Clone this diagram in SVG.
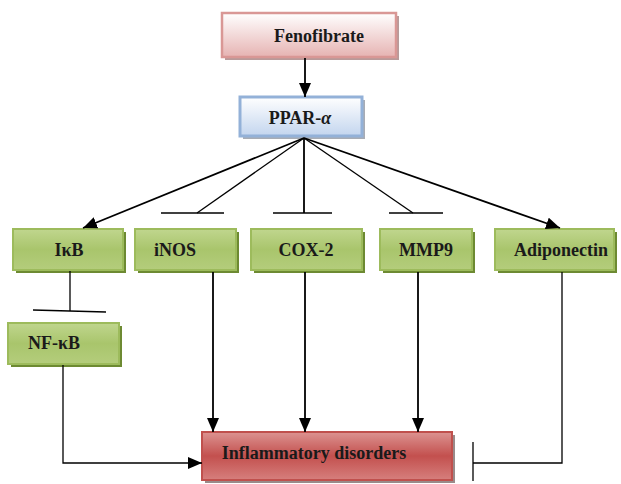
<svg xmlns="http://www.w3.org/2000/svg" width="621" height="484" viewBox="0 0 621 484">
<defs>
<linearGradient id="gPink" x1="0" y1="0" x2="0" y2="1"><stop offset="0" stop-color="#ffffff"/><stop offset="1" stop-color="#e6b3b2"/></linearGradient>
<linearGradient id="gBlue" x1="0" y1="0" x2="0" y2="1"><stop offset="0" stop-color="#ffffff"/><stop offset="1" stop-color="#c3d5ee"/></linearGradient>
<linearGradient id="gGreen" x1="0" y1="0" x2="0" y2="1"><stop offset="0" stop-color="#c0d68e"/><stop offset="0.5" stop-color="#a9c56c"/><stop offset="1" stop-color="#b4cd7c"/></linearGradient>
<linearGradient id="gRed" x1="0" y1="0" x2="0" y2="1"><stop offset="0" stop-color="#dc9391"/><stop offset="0.5" stop-color="#c3504e"/><stop offset="1" stop-color="#d67f7d"/></linearGradient>
<marker id="arr" markerUnits="userSpaceOnUse" markerWidth="14" markerHeight="12" refX="14" refY="6" orient="auto"><path d="M0,0 L14,6 L0,12 z" fill="#000"/></marker>
</defs>
<style>
text{font-family:"Liberation Serif","Times New Roman",serif;font-weight:bold;font-size:18px;fill:#1a1a1a;text-anchor:middle}
.sh{stroke:none}
.pink{fill:url(#gPink);stroke:#d99795;stroke-width:2.5}
.blue{fill:url(#gBlue);stroke:#93b1d8;stroke-width:3}
.green{fill:url(#gGreen);stroke:#9dbb5c;stroke-width:2}
.red{fill:url(#gRed);stroke:#c0504d;stroke-width:2}
.c{fill:none;stroke:#000;stroke-width:1.8}
.t{fill:none;stroke:#000;stroke-width:1.3}
</style>
<g id="fenofibrate">
<rect class="sh" x="225" y="16" width="174" height="44" fill="#b89a9a"/>
<rect class="pink" x="222" y="13" width="174" height="44"/>
<text x="319" y="42">Fenofibrate</text>
</g>
<g id="ppar">
<rect class="sh" x="243" y="100" width="122" height="39" fill="#a8acb4"/>
<rect class="blue" x="240" y="97" width="122" height="39"/>
<text x="300" y="124">PPAR-<tspan font-style="italic">α</tspan></text>
</g>
<g id="ikb">
<rect class="sh" x="16" y="232" width="110" height="41" fill="#6d8a32"/>
<rect class="green" x="13" y="229" width="110" height="41"/>
<text x="69" y="256">IκB</text>
</g>
<g id="inos">
<rect class="sh" x="138" y="232" width="101" height="41" fill="#6d8a32"/>
<rect class="green" x="135" y="229" width="101" height="41"/>
<text x="175" y="256">iNOS</text>
</g>
<g id="cox2">
<rect class="sh" x="254" y="232" width="111" height="41" fill="#6d8a32"/>
<rect class="green" x="251" y="229" width="111" height="41"/>
<text x="306" y="256">COX-2</text>
</g>
<g id="mmp9">
<rect class="sh" x="383" y="232" width="92" height="41" fill="#6d8a32"/>
<rect class="green" x="380" y="229" width="92" height="41"/>
<text x="426" y="256">MMP9</text>
</g>
<g id="adiponectin">
<rect class="sh" x="498" y="232" width="119" height="41" fill="#6d8a32"/>
<rect class="green" x="495" y="229" width="119" height="41"/>
<text x="561" y="256">Adiponectin</text>
</g>
<g id="nfkb">
<rect class="sh" x="11" y="326" width="111" height="41" fill="#6d8a32"/>
<rect class="green" x="8" y="323" width="111" height="41"/>
<text x="54" y="349">NF-κB</text>
</g>
<g id="inflammatory">
<rect class="sh" x="205" y="435" width="250" height="48" fill="#9a8a8a"/>
<rect class="red" x="202" y="432" width="250" height="48"/>
<text x="314" y="459">Inflammatory disorders</text>
</g>
<g id="connectors">
<line class="c" x1="305" y1="58" x2="305" y2="97" marker-end="url(#arr)"/>
<line class="c" x1="304" y1="138" x2="83" y2="228" stroke-width="2.2" marker-end="url(#arr)"/>
<line class="t" x1="304" y1="138" x2="197" y2="213"/>
<line class="t" x1="161" y1="213" x2="224" y2="213"/>
<line class="c" x1="304" y1="138" x2="304" y2="213"/>
<line class="t" x1="273" y1="213" x2="332" y2="213"/>
<line class="t" x1="304" y1="138" x2="413" y2="213"/>
<line class="t" x1="389" y1="213" x2="443" y2="213"/>
<line class="c" x1="304" y1="138" x2="560" y2="228" stroke-width="2.2" marker-end="url(#arr)"/>
<line class="t" x1="70" y1="271" x2="70" y2="311"/>
<line class="t" x1="33" y1="310" x2="106" y2="312"/>
<polyline class="t" points="63,365 63,463 202,463" marker-end="url(#arr)"/>
<line class="c" x1="213" y1="272" x2="213" y2="432" marker-end="url(#arr)"/>
<line class="c" x1="305" y1="272" x2="305" y2="432" marker-end="url(#arr)"/>
<line class="c" x1="418" y1="272" x2="418" y2="432" marker-end="url(#arr)"/>
<polyline class="t" points="562,272 562,463 473,463"/>
<line class="t" x1="473" y1="442" x2="473" y2="481"/>
</g>
</svg>
